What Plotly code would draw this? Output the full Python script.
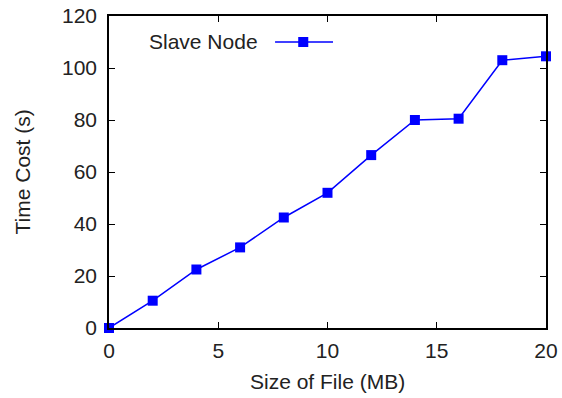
import plotly.graph_objects as go

file_size_mb = [0, 2, 4, 6, 8, 10, 12, 14, 16, 18, 20]
time_cost_s = [0, 10.5, 22.5, 31, 42.5, 52, 66.5, 80, 80.5, 103, 104.5]
series_name = "Slave Node"
x_title = "Size of File (MB)"
y_title = "Time Cost (s)"
x_ticks = [0, 5, 10, 15, 20]
y_ticks = [0, 20, 40, 60, 80, 100, 120]

BLUE = "#0000ff"
FONT = "Liberation Sans, Arial, sans-serif"
TXT = "#222"
FS = 21

fig = go.Figure()
fig.add_trace(go.Scatter(
    x=file_size_mb, y=time_cost_s, mode="lines+markers", name=series_name,
    line=dict(color=BLUE, width=1.5),
    marker=dict(symbol="square", size=10, color=BLUE),
    cliponaxis=False, showlegend=False,
))

axis_common = dict(
    showline=True, linecolor="black", linewidth=1.5, mirror="ticks",
    ticks="inside", ticklen=6, tickwidth=1.2, tickcolor="black",
    showgrid=False, zeroline=False, automargin=False,
    tickfont=dict(family=FONT, size=FS, color=TXT),
)

fig.update_xaxes(range=[0, 20], tickvals=x_ticks, ticklabelstandoff=3, **axis_common)
fig.update_yaxes(range=[0, 120], tickvals=y_ticks, ticklabelstandoff=6, **axis_common)

# axis titles
fig.add_annotation(xref="paper", yref="paper", x=0.5, y=-0.173, text=x_title,
                   showarrow=False, xanchor="center", yanchor="middle",
                   font=dict(family=FONT, size=FS, color=TXT))
fig.add_annotation(xref="paper", yref="paper", x=-0.198, y=0.5, text=y_title,
                   showarrow=False, xanchor="center", yanchor="middle", textangle=-90,
                   font=dict(family=FONT, size=FS, color=TXT))

# gnuplot-style legend: text on the left, sample on the right
fig.add_annotation(xref="paper", yref="paper", x=0.3455, y=0.9167, text=series_name,
                   showarrow=False, xanchor="right", yanchor="middle",
                   font=dict(family=FONT, size=FS, color=TXT))
fig.add_shape(type="line", xref="paper", yref="paper", x0=0.380, x1=0.5126, y0=0.9167, y1=0.9167,
              line=dict(color=BLUE, width=1.5))
fig.add_shape(type="rect", xref="paper", yref="paper", x0=0.433, x1=0.456, y0=0.9007, y1=0.9327,
              line=dict(color=BLUE, width=0), fillcolor=BLUE)

fig.update_layout(
    width=562, height=398,
    margin=dict(l=109, r=16, t=16, b=70),
    paper_bgcolor="white", plot_bgcolor="white",
)

fig.write_html("out.html", config={"displayModeBar": False},
               post_script="document.body.style.margin='0';")
